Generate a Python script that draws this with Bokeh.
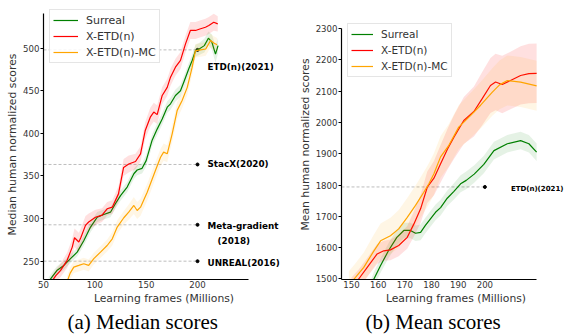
from bokeh.plotting import figure
from bokeh.layouts import row
from bokeh.models import FixedTicker, Legend, LegendItem, Title, Range1d
from bokeh.core.properties import value
from bokeh.embed import file_html
from bokeh.resources import INLINE

# ---------------- (a) Median scores ----------------
med_xetd_x = [58, 62, 66.5, 73, 78, 80.2, 84.4, 86.5, 90.9, 94, 100.6, 107, 112, 117, 123, 128, 133, 139.6, 144.5, 149,
              154, 157.4, 160.7, 165.6, 170.5, 173.7, 178.5, 183.4, 188.3, 193, 198, 203, 207.7, 211, 215.8, 219.7]
med_xetd_y = [226, 233, 239, 251, 266.5, 277.5, 272.5, 278, 292, 296, 301.5, 304, 311.5, 313.4, 329, 360, 364, 367, 376, 403,
              419, 425, 422, 444.5, 454, 466, 477.7, 485.6, 505, 520.8, 520.8, 522.8, 524.6, 526.6, 530.5, 528.5]
med_xetd_sd = [6, 7, 8, 9, 10, 11, 11, 11, 11, 10, 9, 8, 8, 8, 9, 10, 10, 9, 9, 10,
               11, 11, 11, 10, 10, 10, 10, 10, 10, 10, 10, 10, 10, 10, 10, 9]

med_surreal_x = [55, 58, 63, 69.8, 76.3, 82.8, 89.2, 95.8, 102.3, 108.7, 115.2, 120, 125, 131.5, 138, 141.2, 146, 150,
                 155.8, 160.7, 165.6, 170.5, 173.7, 178.5, 183.4, 186.6, 191.5, 194.8, 198, 201.6, 206.6, 210.6, 214,
                 217.5, 220]
med_surreal_y = [226, 231, 239, 245, 253, 260.6, 274, 290, 301.6, 304.8, 307.5, 317.4, 327, 337, 352.6, 357, 359, 368,
                 392, 405, 417, 430.8, 434.7, 444.5, 450, 460, 475.8, 485.6, 497, 499, 503, 511.7, 507, 493, 503]
med_surreal_sd = [5, 5, 5, 5, 5, 5, 6, 6, 6, 6, 6, 6, 6, 6, 6, 6, 6, 7, 7, 7, 7, 7, 7, 7, 7, 7, 7, 7, 7, 7, 8, 8, 9, 10, 9]

med_mc_x = [73, 76, 79.5, 84.4, 89.2, 94, 99, 105.5, 112, 117, 121.8, 128.2, 133, 138, 141.2, 144.5, 151, 159, 164, 167,
            170.5, 175.3, 180.2, 185, 190, 194.8, 198, 203, 208, 212.7, 215.8, 219]
med_mc_y = [226, 236, 243, 245, 247, 245, 253, 260.6, 268.4, 276.3, 290, 301, 307.5, 315.4, 309.5, 313.4, 331, 356.5, 372,
            378, 376, 399.5, 427, 438.6, 454, 477.7, 497, 498, 499, 509, 506, 504]
med_mc_sd = [7, 7, 7, 7, 7, 7, 7, 7, 7, 8, 8, 8, 9, 10, 10, 10, 10, 10, 10, 10, 10, 10, 10, 9, 9, 9, 8, 8, 8, 8, 8, 8]

med_ref_names = ["ETD(n)(2021)", "StacX(2020)", "Meta-gradient", "UNREAL(2016)"]
med_ref_values = [498, 363.5, 292.7, 250]
med_ref_extra = "(2018)"
med_xticks = [50, 100, 150, 200]
med_yticks = [250, 300, 350, 400, 450, 500]

# ---------------- (b) Mean scores ----------------
mean_xetd_x = [150, 152.7, 155.9, 159.6, 162.1, 164.6, 167.7, 170.9, 173.4, 175.9, 178.4, 180.9, 183.4, 186, 188.4,
               192.1, 195.9, 199, 202.1, 204, 206.5, 209.6, 213.4, 216.5, 219.4]
mean_xetd_y = [1475, 1500, 1537, 1580, 1590, 1593, 1607, 1633, 1676, 1724, 1793, 1822, 1868, 1915, 1953, 2006, 2035,
               2076, 2118, 2129, 2121, 2134, 2150, 2156, 2157]
mean_xetd_sd = [30, 30, 30, 32, 32, 33, 34, 36, 40, 45, 50, 55, 60, 65, 70, 75, 80, 85, 88, 90, 92, 92, 93, 95, 95]

mean_mc_x = [149, 151.5, 154.6, 158.4, 160.9, 164.6, 167.7, 170.9, 174, 177.1, 179, 180.9, 183.4, 186.5, 190.2, 194.6,
             198.4, 202.8, 205.5, 208.4, 213.4, 219.4]
mean_mc_y = [1480, 1505, 1537, 1590, 1622, 1638, 1660, 1697, 1735, 1777, 1804, 1836, 1890, 1927, 1985, 2022, 2055, 2097,
             2120, 2134, 2129, 2117]
mean_mc_sd = [45, 45, 48, 52, 55, 58, 60, 62, 64, 65, 66, 66, 67, 68, 70, 72, 74, 76, 78, 80, 80, 80]

mean_surreal_x = [157.5, 158.4, 160.9, 163.9, 167, 169.6, 172.1, 174, 175.9, 177.7, 179.6, 181.5, 183.4, 185.9, 188.4,
                  190.9, 193, 196, 199.6, 203.4, 208.4, 213.4, 216.5, 219.4]
mean_surreal_y = [1480, 1500, 1543, 1591, 1633, 1655, 1655, 1646, 1649, 1671, 1692, 1713, 1728, 1758, 1780, 1804, 1815,
                  1835, 1866, 1910, 1932, 1942, 1932, 1905]
mean_surreal_sd = [22, 22, 23, 24, 25, 25, 25, 25, 25, 25, 25, 25, 25, 25, 26, 27, 28, 28, 28, 28, 28, 28, 28, 28]

mean_ref_names = ["ETD(n)(2021)"]
mean_ref_values = [1794]
mean_xticks = [150, 160, 170, 180, 190, 200]
mean_yticks = [1500, 1600, 1700, 1800, 1900, 2000, 2100, 2200, 2300]

series_names = ["Surreal", "X-ETD(n)", "X-ETD(n)-MC"]
series_colors = ["#008000", "#ff0000", "#ffa500"]
ref_x = 200

TXT = "#333333"


def style_axes(p, xticks, yticks, xbounds, ybounds, ylabel):
    p.xgrid.visible = False
    p.ygrid.visible = False
    p.outline_line_color = None
    p.xaxis.ticker = FixedTicker(ticks=xticks)
    p.yaxis.ticker = FixedTicker(ticks=yticks)
    p.xaxis.bounds = xbounds
    p.yaxis.bounds = ybounds
    p.xaxis.axis_label = "Learning frames (Millions)"
    p.yaxis.axis_label = ylabel
    for ax in (p.xaxis[0], p.yaxis[0]):
        ax.axis_line_color = "black"
        ax.axis_line_width = 1.2
        ax.major_tick_line_color = "black"
        ax.major_tick_out = 3
        ax.major_tick_in = 0
        ax.minor_tick_out = 0
        ax.minor_tick_in = 0
        ax.major_label_text_font = "DejaVu Sans"
        ax.major_label_text_font_size = "8.6px"
        ax.major_label_text_color = TXT
        ax.major_label_standoff = 1
        ax.axis_label_text_font = "DejaVu Sans"
        ax.axis_label_text_font_size = "10.8px"
        ax.axis_label_text_font_style = "normal"
        ax.axis_label_text_color = TXT
        ax.axis_label_standoff = 1
    p.xaxis[0].major_tick_out = 0


def add_series(p, xs, ys, sds, color, band_alpha):
    lo = [y - s for y, s in zip(ys, sds)]
    hi = [y + s for y, s in zip(ys, sds)]
    p.varea(x=xs, y1=lo, y2=hi, fill_color=color, fill_alpha=band_alpha)
    return p.line(x=xs, y=ys, line_color=color, line_width=1.2)


def make_legend(p, renderers, loc, font_size, gw):
    items = [LegendItem(label=n, renderers=[r]) for n, r in zip(series_names, renderers)]
    lg = Legend(items=items, location=loc,
                label_text_font="DejaVu Sans", label_text_font_size=font_size, label_text_color=TXT,
                glyph_width=gw, glyph_height=14, label_height=14, spacing=2, padding=3, margin=0,
                label_standoff=8, border_line_color="#cccccc", border_line_width=1,
                background_fill_color="white", background_fill_alpha=0.85)
    p.add_layout(lg)


def add_caption(p, text, off):
    p.add_layout(Title(text=text, align="left", offset=off, text_font="Liberation Serif",
                       text_font_size="21px", text_font_style="normal", text_color="black",
                       standoff=0), "below")


# ---------------- figure (a) ----------------
pa = figure(width=286, height=335, output_backend="svg", toolbar_location=None,
            x_range=Range1d(50, 284.7), y_range=Range1d(228.5, 545.4),
            min_border_left=43, min_border_right=2, min_border_top=9, min_border_bottom=56)
style_axes(pa, med_xticks, med_yticks, (50, 250), (228.5, 540.7), "Median human normalized scores")

pa.segment(x0=[50] * len(med_ref_values), x1=[ref_x] * len(med_ref_values), y0=med_ref_values, y1=med_ref_values,
           line_color="#b5b5b5", line_width=0.9, line_dash="3 2")
pa.scatter(x=[ref_x] * len(med_ref_values), y=med_ref_values, size=3, color="black")

ra = []
ra.append(add_series(pa, med_surreal_x, med_surreal_y, med_surreal_sd, series_colors[0], 0.10))
ra.append(add_series(pa, med_xetd_x, med_xetd_y, med_xetd_sd, series_colors[1], 0.12))
ra.append(add_series(pa, med_mc_x, med_mc_y, med_mc_sd, series_colors[2], 0.10))

lab_dx = [10, 10, 10, 10]
lab_dy = [17, 0, 1, 2]
for name, yv, dx, dy in zip(med_ref_names, med_ref_values, lab_dx, lab_dy):
    pa.text(x=[ref_x], y=[yv], text=[name], x_offset=dx, y_offset=dy,
            text_font=value("DejaVu Sans"), text_font_style="bold", text_font_size="8.8px",
            text_color="black", text_align="left", text_baseline="middle")
pa.text(x=[ref_x], y=[med_ref_values[2]], text=[med_ref_extra], x_offset=20, y_offset=16,
        text_font=value("DejaVu Sans"), text_font_style="bold", text_font_size="8.8px",
        text_color="black", text_align="left", text_baseline="middle")

make_legend(pa, ra, (6, 216), "11px", 25)
add_caption(pa, "(a) Median scores", 24)

# ---------------- figure (b) ----------------
pb = figure(width=286, height=335, output_backend="svg", toolbar_location=None,
            x_range=Range1d(146.25, 232.1), y_range=Range1d(1498.4, 2360.7),
            min_border_left=55, min_border_right=2, min_border_top=9, min_border_bottom=56)
style_axes(pb, mean_xticks, mean_yticks, (146.25, 219.4), (1498.4, 2300), "Mean human normalized scores")

pb.segment(x0=[146.25] * len(mean_ref_values), x1=[ref_x] * len(mean_ref_values), y0=mean_ref_values,
           y1=mean_ref_values, line_color="#b5b5b5", line_width=0.9, line_dash="3 2")
pb.scatter(x=[ref_x] * len(mean_ref_values), y=mean_ref_values, size=3, color="black")

rb = []
rb.append(add_series(pb, mean_surreal_x, mean_surreal_y, mean_surreal_sd, series_colors[0], 0.10))
rb.append(add_series(pb, mean_xetd_x, mean_xetd_y, mean_xetd_sd, series_colors[1], 0.12))
rb.append(add_series(pb, mean_mc_x, mean_mc_y, mean_mc_sd, series_colors[2], 0.10))

for name, yv in zip(mean_ref_names, mean_ref_values):
    pb.text(x=[ref_x], y=[yv], text=[name], x_offset=26, y_offset=2,
            text_font=value("DejaVu Sans"), text_font_style="bold", text_font_size="7px",
            text_color="black", text_align="left", text_baseline="middle")

make_legend(pb, rb, (6, 202), "10.5px", 22)
add_caption(pb, "(b) Mean scores", 24)

layout = row(pa, pb)
open("out.html", "w").write(file_html(layout, INLINE))
